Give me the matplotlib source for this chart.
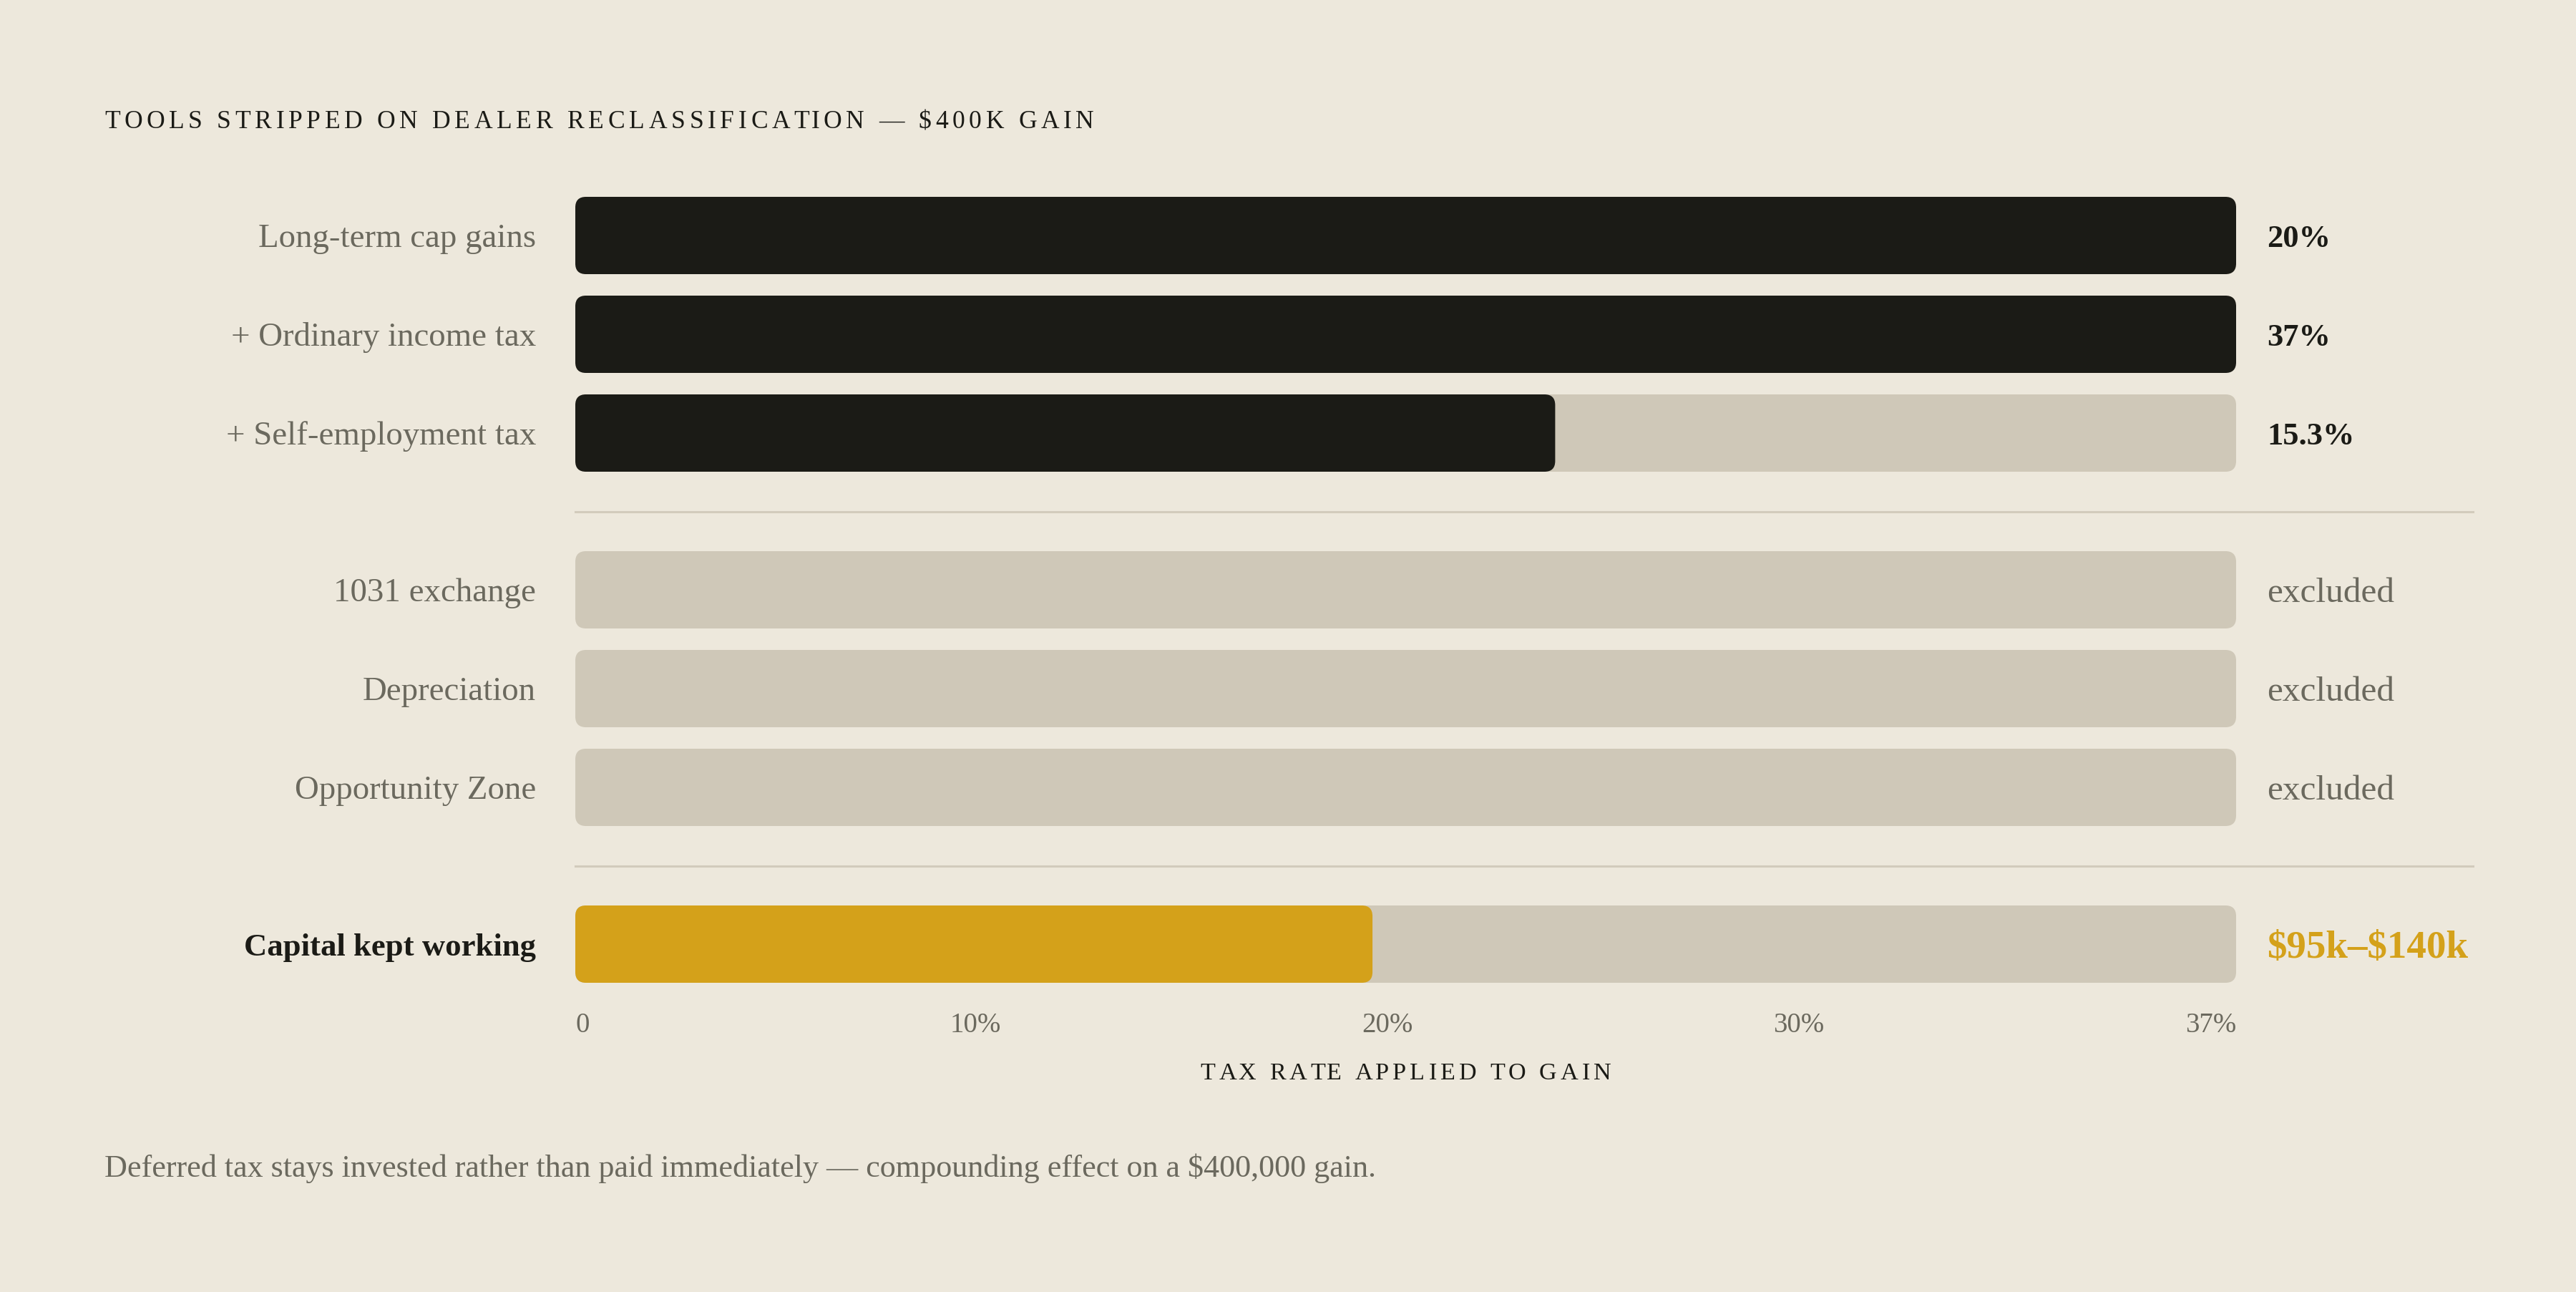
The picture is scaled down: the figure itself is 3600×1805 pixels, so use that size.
import matplotlib
matplotlib.use("Agg")
import matplotlib.pyplot as plt
from matplotlib.patches import FancyBboxPatch
from matplotlib.lines import Line2D
from matplotlib.font_manager import FontProperties

plt.rcParams["text.parse_math"] = False

# ---------------- data ----------------
title = "TOOLS STRIPPED ON DEALER RECLASSIFICATION — $400K GAIN"
labels = ["Long-term cap gains", "+ Ordinary income tax", "+ Self-employment tax",
          "1031 exchange", "Depreciation", "Opportunity Zone",
          "Capital kept working"]
groups = [0, 0, 0, 1, 1, 1, 2]
fill_pct = [100, 100, 59, 0, 0, 0, 48]          # filled share of the track (%)
value_text = ["20%", "37%", "15.3%", "excluded", "excluded", "excluded", "$95k–$140k"]
value_kind = ["rate", "rate", "rate", "excluded", "excluded", "excluded", "kept"]
tick_labels = ["0", "10%", "20%", "30%", "37%"]
axis_title = "TAX RATE APPLIED TO GAIN"
footnote = "Deferred tax stays invested rather than paid immediately — compounding effect on a $400,000 gain."

# ---------------- style ----------------
W, H, DPI = 3600, 1806, 200
BG = "#ede8dc"
DARK = "#1b1b16"
TRACK = "#cfc8b8"
GOLD = "#d4a11a"
GRAY = "#6b695e"
SEP = "#d2cbbc"
FONT = "Liberation Serif"

fig = plt.figure(figsize=(W / DPI, H / DPI), dpi=DPI, facecolor=BG)
renderer = fig.canvas.get_renderer()

track_left, track_right = 804, 3125
ax = fig.add_axes([track_left / W, 0, (track_right - track_left) / W, 1])
ax.set_xlim(0, 100)
ax.set_ylim(H, 0)
ax.axis("off")
ax.set_facecolor("none")
px_per_x = (track_right - track_left) / 100.0

# row centres (pixel rows from the top)
row_step, bar_h, group_gap, y0 = 138, 108, 81, 330
ys = [y0 + i * row_step + groups[i] * group_gap for i in range(len(labels))]


def round_bars(container, r_px=15):
    for rect in list(container):
        x, y = rect.get_xy()
        w, h = rect.get_width(), rect.get_height()
        fc = rect.get_facecolor()
        rect.remove()
        if w <= 0:
            continue
        p = FancyBboxPatch((x, y), w, h,
                           boxstyle=f"round,pad=0,rounding_size={r_px / px_per_x}",
                           mutation_aspect=px_per_x, fc=fc, ec="none", lw=0)
        ax.add_patch(p)


tracks = ax.barh(ys, [100] * len(ys), height=bar_h, color=TRACK)
round_bars(tracks)
fill_colors = [GOLD if k == "kept" else DARK for k in value_kind]
fills = ax.barh(ys, fill_pct, height=bar_h, color=fill_colors)
round_bars(fills)

# separators between groups
for gi in range(1, max(groups) + 1):
    prev_last = max(i for i in range(len(ys)) if groups[i] == gi - 1)
    next_first = min(i for i in range(len(ys)) if groups[i] == gi)
    ysep = (ys[prev_last] + bar_h / 2 + ys[next_first] - bar_h / 2) / 2
    fig.add_artist(Line2D([track_left / W, 3456 / W], [1 - ysep / H, 1 - ysep / H],
                          color=SEP, lw=1.1, transform=fig.transFigure))

pt = 72.0 / DPI  # points per pixel

# row labels and values
for i, (lab, y) in enumerate(zip(labels, ys)):
    kept = value_kind[i] == "kept"
    fs = 16.1 if kept else 16.9
    ax.annotate(lab, xy=(0, y), xytext=(-55 * pt, -0.33 * fs),
                textcoords="offset points", ha="right", va="baseline",
                fontsize=fs, family=FONT, color=DARK if kept else GRAY,
                fontweight="bold" if kept else "normal")
    k = value_kind[i]
    if k == "rate":
        vfs, col, wt = 16.0, DARK, "bold"
    elif k == "excluded":
        vfs, col, wt = 17.8, GRAY, "normal"
    else:
        vfs, col, wt = 19.8, GOLD, "bold"
    ax.annotate(value_text[i], xy=(100, y), xytext=(43 * pt, -0.33 * vfs),
                textcoords="offset points", ha="left", va="baseline",
                fontsize=vfs, family=FONT, color=col, fontweight=wt)


def text_w(s, prop):
    return renderer.get_text_width_height_descent(s, prop, ismath=False)[0]


def spaced_text(s, x_left, y_base, width, fs, color, weight="normal"):
    prop = FontProperties(family=FONT, size=fs, weight=weight)
    pipe = text_w("|", prop)
    adv = [0.0] + [text_w(s[:i] + "|", prop) - pipe for i in range(1, len(s))]
    natural = adv[-1] + text_w(s[-1], prop)
    tr = (width - natural) / (len(s) - 1)
    for i, ch in enumerate(s):
        if ch == " ":
            continue
        fig.text((x_left + adv[i] + i * tr) / W, 1 - y_base / H, ch,
                 fontproperties=prop, color=color, ha="left", va="baseline")


# title
spaced_text(title, 146, 179, 1383, 12.8, DARK)

# x tick labels laid out like a space-between row under the track
tprop = FontProperties(family=FONT, size=14.0)
tw = [text_w(t, tprop) for t in tick_labels]
gap = ((track_right - track_left) - sum(tw)) / (len(tick_labels) - 1)
x = track_left
for t, w in zip(tick_labels, tw):
    fig.text(x / W, 1 - 1442 / H, t, fontproperties=tprop, color=GRAY,
             ha="left", va="baseline")
    x += w + gap

# axis title (centred under track)
aw = 574
spaced_text(axis_title, (track_left + track_right) / 2 - aw / 2, 1508, aw, 12.3, DARK)

# footnote
fig.text(146 / W, 1 - 1644 / H, footnote, family=FONT, fontsize=15.9, color=GRAY,
         ha="left", va="baseline")

fig.savefig("out.png", dpi=DPI, facecolor=BG)
